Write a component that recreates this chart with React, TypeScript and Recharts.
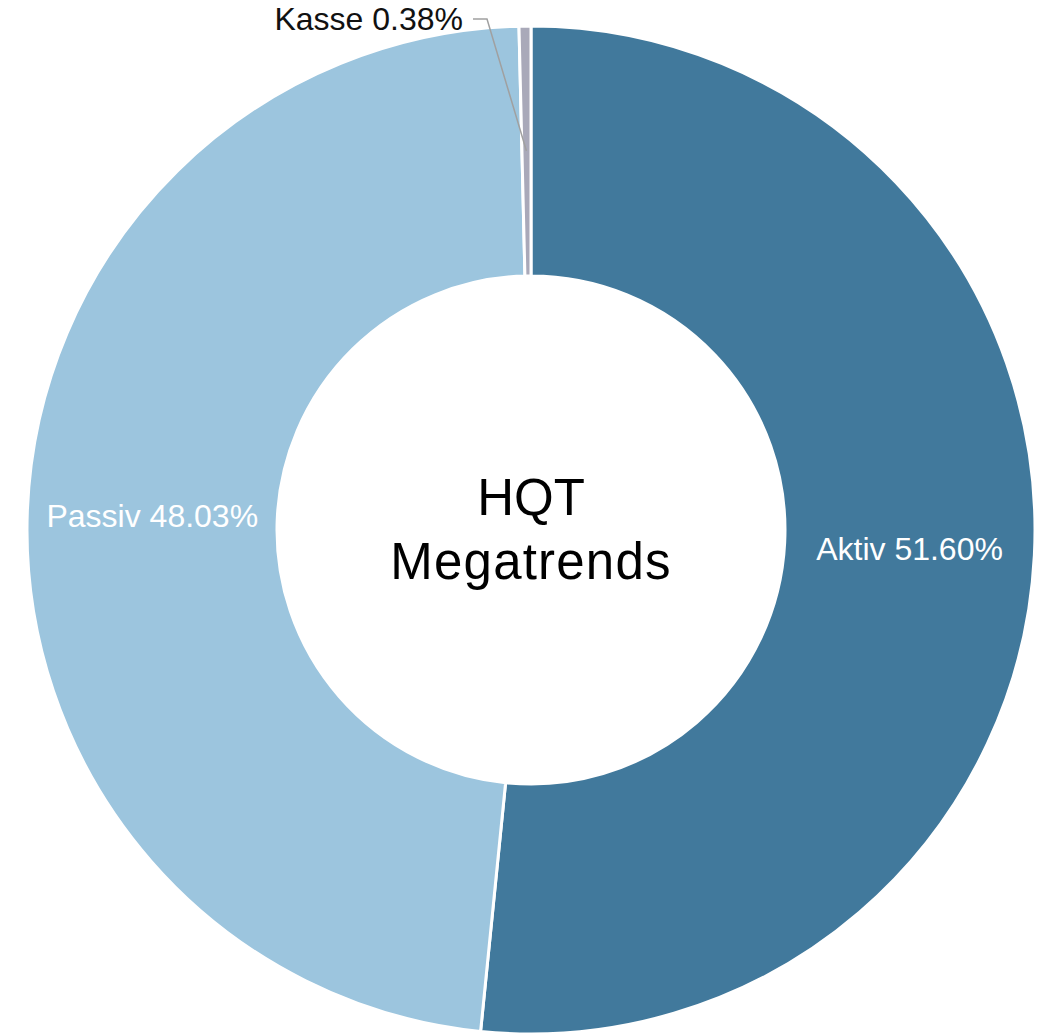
import { PieChart, Pie, Cell } from 'recharts';

const names: string[] = ['Aktiv', 'Passiv', 'Kasse'];
const shares: number[] = [51.6, 48.03, 0.38];
const colors: string[] = ['#41799c', '#9cc5de', '#a9a9b9'];
const centerLines: string[] = ['HQT', 'Megatrends'];

const pieData = names.map((name, i) => ({ name, value: shares[i] }));

const RADIAN = Math.PI / 180;
const FONT = '"Helvetica Neue", Helvetica, Arial, "Liberation Sans", sans-serif';

const fmt = (v: number) => v.toFixed(2) + '%';

const renderLabel = (props: any) => {
  const { cx, cy, midAngle, innerRadius, outerRadius, name, value, index } = props;
  const mid = (innerRadius + outerRadius) / 2;
  const x = cx + mid * Math.cos(-midAngle * RADIAN);
  const y = cy + mid * Math.sin(-midAngle * RADIAN);

  // tiny slice gets an outside label with a leader line
  if (index === 2) {
    const ex = cx - 44;
    const ey = cy - outerRadius - 7;
    return (
      <g>
        <polyline
          points={`${x},${y} ${ex},${ey} ${ex - 14},${ey}`}
          fill="none"
          stroke="#a0a0a0"
          strokeWidth={1.5}
        />
        <text
          x={ex - 24}
          y={ey}
          textAnchor="end"
          dominantBaseline="central"
          fill="#111"
          fontSize={32}
          fontFamily={FONT}
        >
          {name} {fmt(value)}
        </text>
      </g>
    );
  }

  return (
    <text
      x={x}
      y={y}
      textAnchor="middle"
      dominantBaseline="central"
      fill="#fff"
      fontSize={32}
      fontFamily={FONT}
    >
      {name} {fmt(value)}
    </text>
  );
};

const App = () => {
  return (
    <div style={{ position: 'absolute', left: 0, top: 0, background: '#fff' }}>
      <PieChart width={1040} height={1036}>
        <Pie
          data={pieData}
          dataKey="value"
          nameKey="name"
          cx={526}
          cy={525}
          innerRadius={254}
          outerRadius={504}
          startAngle={90}
          endAngle={-270}
          stroke="#fff"
          strokeWidth={3}
          label={renderLabel}
          labelLine={false}
          isAnimationActive={false}
        >
          {pieData.map((d, i) => (
            <Cell key={d.name} fill={colors[i]} />
          ))}
        </Pie>
        <text
          x={531}
          y={497}
          textAnchor="middle"
          dominantBaseline="central"
          fontSize={51}
          fontFamily={FONT}
          fill="#000"
        >
          {centerLines[0]}
        </text>
        <text
          x={531}
          y={561}
          textAnchor="middle"
          dominantBaseline="central"
          fontSize={51}
          letterSpacing={1.2}
          fontFamily={FONT}
          fill="#000"
        >
          {centerLines[1]}
        </text>
      </PieChart>
    </div>
  );
};

export default App;
